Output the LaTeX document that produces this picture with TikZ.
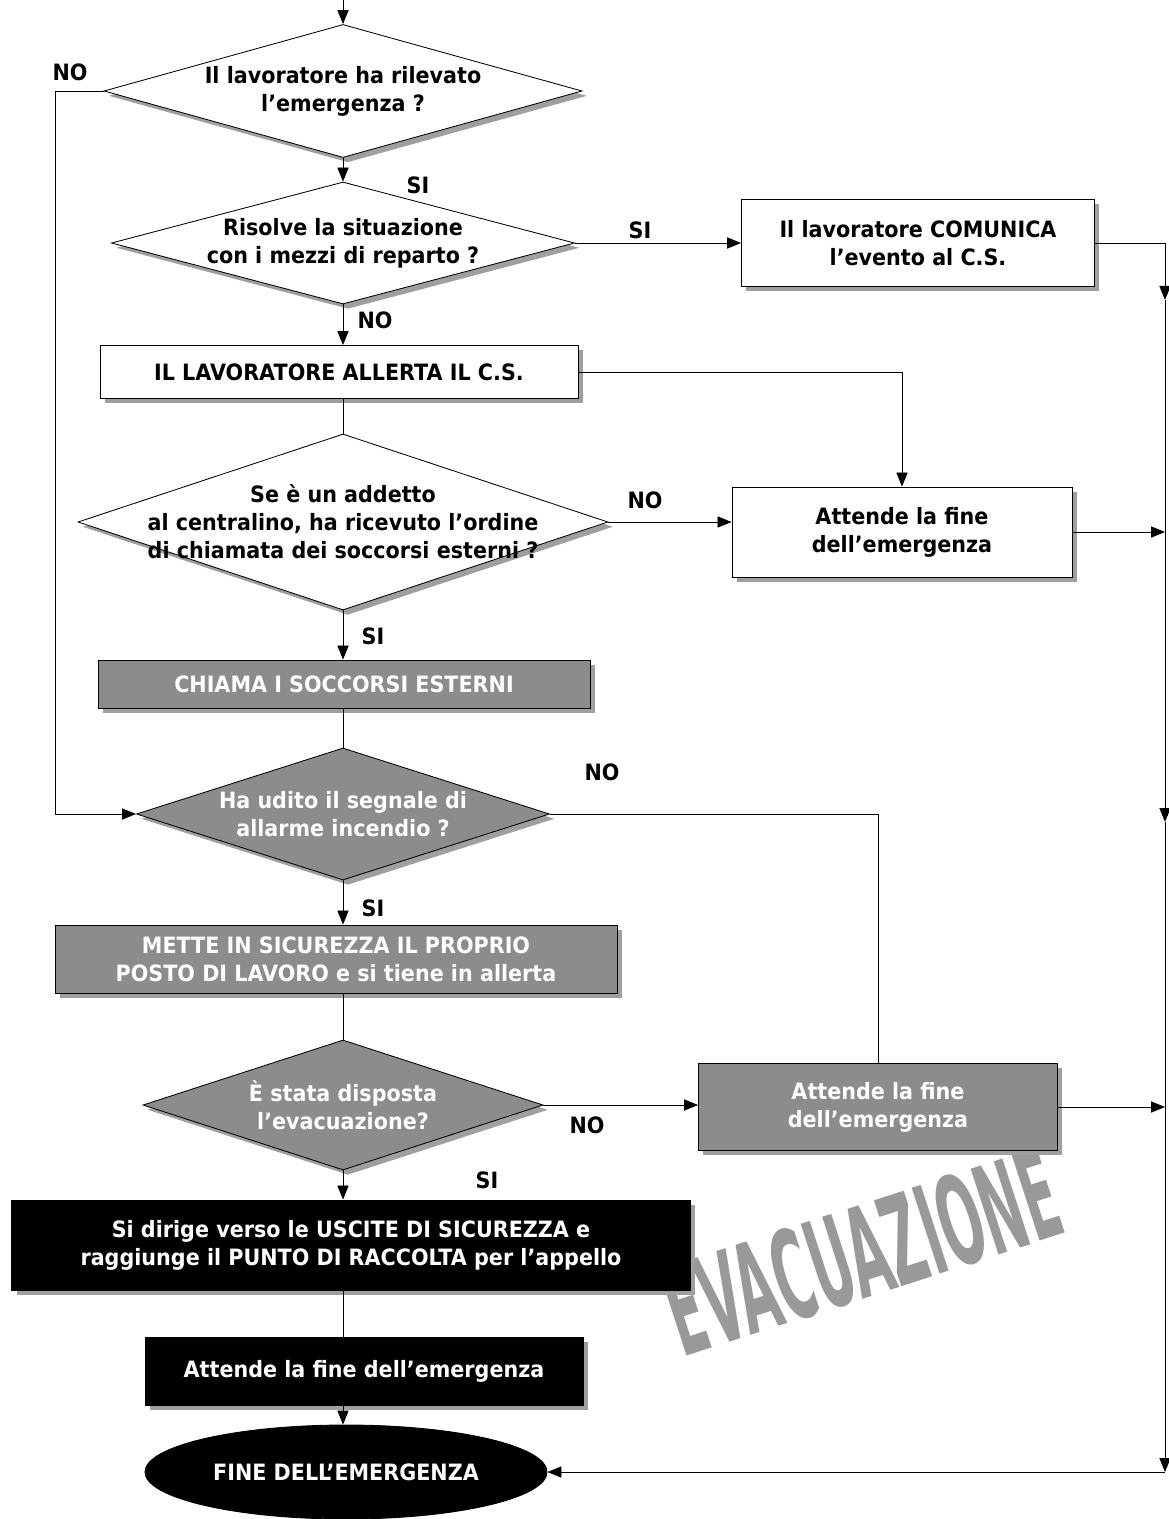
\documentclass[tikz,border=0pt]{standalone}
\usepackage{fontspec}
\setmainfont{DejaVu Sans}[FakeStretch=0.92]
\usetikzlibrary{shapes.geometric,arrows.meta,shadows}

\tikzset{
  shadowed/.style={drop shadow={shadow xshift=0.12cm,shadow yshift=-0.12cm,fill=gray!75,opacity=1}},
  whitebox/.style={rectangle,draw,fill=white,shadowed,align=center,inner sep=0},
  graybox/.style={rectangle,draw,fill=black!45,text=white,shadowed,align=center,inner sep=0},
  blackbox/.style={rectangle,draw,fill=black,text=white,shadowed,align=center,inner sep=0},
  decision/.style={diamond,draw,inner sep=0,shadowed},
  whiteq/.style={decision,fill=white},
  grayq/.style={decision,fill=black!45},
  answer/.style={inner sep=0}
}

\begin{document}
\begin{tikzpicture}[x=0.025cm,y=-0.025cm,line width=0.6pt,
    font=\fontsize{16}{20}\selectfont\bfseries,
    >={Triangle[length=0.35cm,width=0.28cm]}]
  \useasboundingbox (0,0) rectangle (1169,1519);

  % scritta di sfondo
  \node[text=black!40,rotate=18,inner sep=0] (evac) at (862,1252)
    {\fontsize{88}{88}\selectfont\scalebox{0.45}[1]{EVACUAZIONE}};

  \coordinate (start) at (343,0);
  \node[whiteq,minimum width=11.95cm,minimum height=3.325cm,
    label={[align=center]center:{Il lavoratore ha rilevato\\l’emergenza ?}}] (d1) at (343,91) {};
  \node[whiteq,minimum width=11.575cm,minimum height=3.05cm,
    label={[align=center]center:{Risolve la situazione\\con i mezzi di reparto ?}}] (d2) at (343,243) {};
  \node[whitebox,minimum width=8.825cm,minimum height=2.175cm] (b1) at (918,243)
    {Il lavoratore COMUNICA\\l’evento al C.S.};
  \node[whitebox,minimum width=11.95cm,minimum height=1.325cm] (b2) at (339,372)
    {IL LAVORATORE ALLERTA IL C.S.};
  \node[whiteq,minimum width=13.25cm,minimum height=4.4cm,
    label={[align=center]center:{Se è un addetto\\al centralino, ha ricevuto l’ordine\\di chiamata dei soccorsi esterni ?}}] (d4) at (343,522) {};
  \node[whitebox,minimum width=8.5cm,minimum height=2.25cm] (b3) at (902,532)
    {Attende la fine\\dell’emergenza};
  \node[graybox,minimum width=12.3cm,minimum height=1.2cm] (b4) at (344,684)
    {CHIAMA I SOCCORSI ESTERNI};
  \node[grayq,minimum width=10.325cm,minimum height=3.3cm,
    label={[align=center,text=white]center:{Ha udito il segnale di\\allarme incendio ?}}] (d3) at (343,814) {};
  \node[graybox,minimum width=14.05cm,minimum height=1.7cm] (b5) at (336,959)
    {METTE IN SICUREZZA IL PROPRIO\\POSTO DI LAVORO e si tiene in allerta};
  \node[grayq,minimum width=10cm,minimum height=3.25cm,
    label={[align=center,text=white]center:{È stata disposta\\l’evacuazione?}}] (d5) at (343,1105) {};
  \node[graybox,minimum width=8.975cm,minimum height=2.175cm] (b6) at (878,1107)
    {Attende la fine\\dell’emergenza};
  \node[blackbox,minimum width=16.95cm,minimum height=2.25cm] (b7) at (351,1245)
    {Si dirige verso le USCITE DI SICUREZZA e\\raggiunge il PUNTO DI RACCOLTA per l’appello};
  \node[blackbox,minimum width=10.95cm,minimum height=1.7cm] (b8) at (364,1371)
    {Attende la fine dell’emergenza};
  \node[ellipse,draw,fill=black,text=white,inner sep=0,
    minimum width=10.05cm,minimum height=2.35cm] (fine) at (346,1472)
    {FINE DELL’EMERGENZA};

  % linea di ritorno a destra
  \coordinate (nol) at (55,91);
  \coordinate (r1) at (1165,300);
  \coordinate (r2) at (1165,822);
  \coordinate (r3) at (1165,1472);

  \draw[->] (start) -- (d1.north);
  \draw[->] (d1.west) -- (nol) |- (d3.west);
  \draw[->] (d1.south) -- (d2.north);
  \draw[->] (d2.east) -- (b1.west);
  \draw[->] (d2.south) -- (d2.south |- b2.north);
  \draw[->] (b2.east) -| (b3.north);
  \draw (b2.south -| d4.north) -- (d4.north);
  \draw[->] (d4.east) -- (d4.east -| b3.west);
  \draw[->] (d4.south) -- (d4.south |- b4.north);
  \draw (b4.south -| d3.north) -- (d3.north);
  \draw (d3.east) -| (b6.north);
  \draw[->] (d3.south) -- (d3.south |- b5.north);
  \draw (b5.south -| d5.north) -- (d5.north);
  \draw[->] (d5.east) -- (d5.east -| b6.west);
  \draw[->] (d5.south) -- (d5.south |- b7.north);
  \draw (b7.south -| d5.south) -- (d5.south |- b8.north);
  \draw[->] (b8.south -| d5.south) -- (d5.south |- fine.north);

  \draw[->] (b1.east) -| (r1);
  \draw[->] (r1) -- (r2);
  \draw[->] (r2) -- (r3);
  \draw[->] (r3) -- (fine.east);
  \draw[->] (b3.east) -- (b3.east -| r1);
  \draw[->] (b6.east) -- (b6.east -| r1);

  % etichette SI / NO
  \node[answer] (no1) at (70,72) {NO};
  \node[answer] (si1) at (418,185) {SI};
  \node[answer] (si2) at (640,230) {SI};
  \node[answer] (no2) at (375,320) {NO};
  \node[answer] (no3) at (645,500) {NO};
  \node[answer] (si3) at (373,636) {SI};
  \node[answer] (no4) at (602,772) {NO};
  \node[answer] (si4) at (373,908) {SI};
  \node[answer] (no5) at (587,1125) {NO};
  \node[answer] (si5) at (487,1180) {SI};
\end{tikzpicture}
\end{document}
